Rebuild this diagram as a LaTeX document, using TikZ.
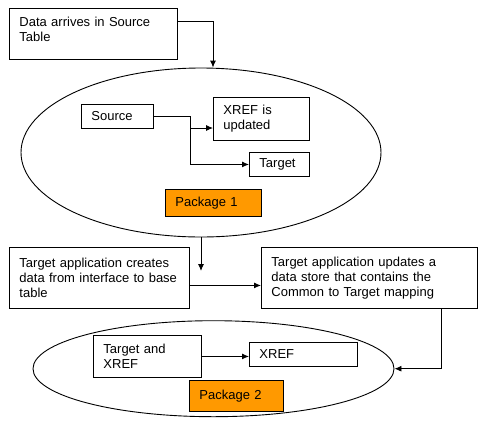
\documentclass[tikz,border=0pt]{standalone}
\usepackage{fontspec}
\setmainfont{Liberation Sans}
\usetikzlibrary{shapes.geometric,arrows.meta}
\definecolor{pkgorange}{HTML}{FF9900}

\begin{document}
\begin{tikzpicture}[x=1pt,y=-1pt,
            every node/.style={font=\fontsize{13}{15}\selectfont},
            box/.style={draw, rectangle, anchor=north west, align=left, inner xsep=10pt, inner ysep=0pt, line width=0.9pt},
            pkg/.style={box, fill=pkgorange},
            pack/.style={draw, ellipse, line width=0.9pt},
            link/.style={->, >={Latex[length=7pt,width=6pt]}, line width=0.9pt}]
            \useasboundingbox (0,0) rectangle (485,424);
            \def \pad {\rule[-10pt]{0pt}{10pt}}
            \node[pack, minimum width=360pt, minimum height=169pt] (pkgoneell) at (201,152.5) {};
            \node[pack, minimum width=361pt, minimum height=96pt] (pkgtwoell) at (213.5,368.7) {};
            \node[box, text width=148pt, minimum height=51pt] (arrive) at (9,8) {Data arrives in Source\\Table\pad};
            \node[box, text width=52pt, minimum height=24pt] (source) at (81,104) {Source};
            \node[box, text width=76pt, minimum height=43pt] (xrefupd) at (213,97) {XREF is\\updated};
            \node[box, text width=40pt, minimum height=24pt] (target) at (249,152) {Target};
            \node[pkg, text width=76pt, minimum height=27pt] (pkgone) at (165,189) {Package 1};
            \node[box, text width=160pt, minimum height=61pt] (create) at (9,247) {Target application creates\\data from interface to base\\table};
            \node[box, text width=196pt, minimum height=61pt] (update) at (261,247) {Target application updates a\\data store that contains the\\Common to Target mapping};
            \node[box, text width=88pt, minimum height=42pt] (tgtxref) at (93,335) {Target and\\XREF};
            \node[box, text width=88pt, minimum height=24pt] (xref) at (249,342) {XREF};
            \node[pkg, text width=74pt, minimum height=31pt] (pkgtwo) at (189,380) {Package 2};
            \coordinate (fork) at (190,128);
            \coordinate (drop) at (201,271);
            \draw[link] ([yshift=-13pt]arrive.north east) -| (xrefupd.west |- pkgoneell.north);
            \draw[link] (source.east) -| (fork) -- (fork -| xrefupd.west);
            \draw[link] (fork) |- (target.west);
            \draw[link] (pkgoneell.south) -- (drop);
            \draw[link] ([yshift=-7.5pt]create.east) -- ([yshift=-7.5pt]update.west);
            \draw[link] ([xshift=72pt]update.south) |- (pkgtwoell.east);
            \draw[link] (tgtxref.east) -- (tgtxref.east -| xref.west);
        \end{tikzpicture}
\end{document}
